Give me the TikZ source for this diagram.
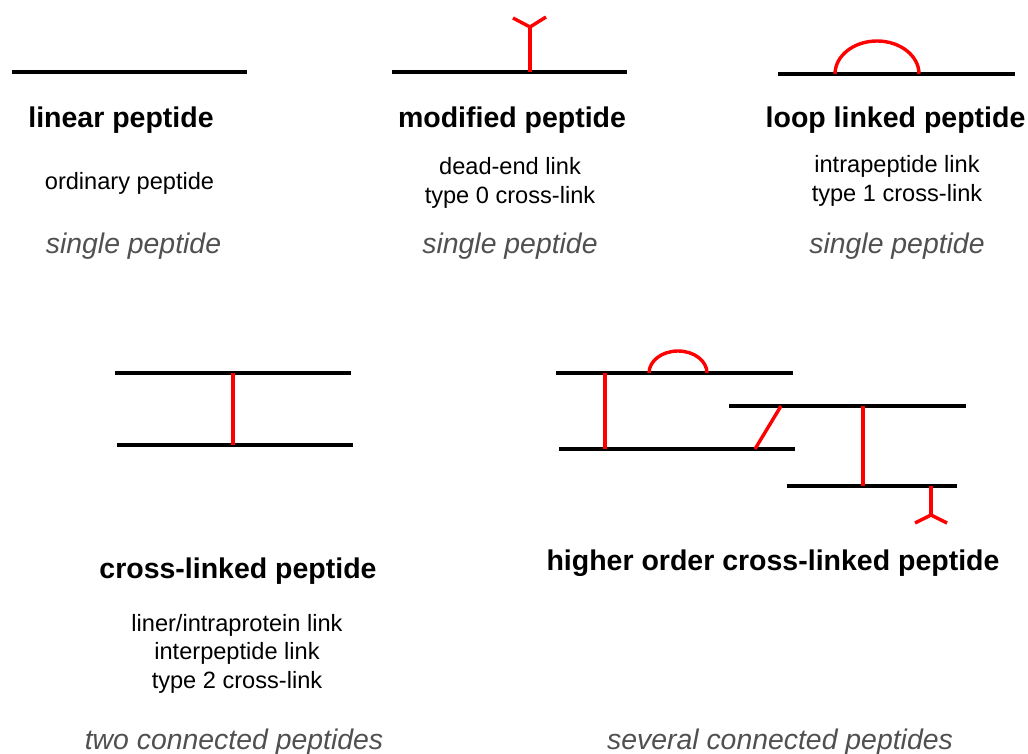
\documentclass[tikz,border=0pt]{standalone}
\usepackage{fontspec}
\setmainfont{Liberation Sans}
\definecolor{notegray}{RGB}{80,80,80}
\definecolor{linkred}{RGB}{255,0,0}
\begin{document}
\begin{tikzpicture}[x=1pt,y=-1pt,
  chain/.style={line width=3.8pt,black},
  xlink/.style={line width=3.4pt,linkred},
  title/.style={anchor=base,inner sep=0pt,font=\bfseries\fontsize{28.5}{34}\selectfont},
  desc/.style={anchor=base,inner sep=0pt,font=\fontsize{23.6}{29}\selectfont},
  kind/.style={anchor=base,inner sep=0pt,text=notegray,font=\itshape\fontsize{28.4}{34}\selectfont}]
\useasboundingbox (0,0) rectangle (1028,754);

% --- linear peptide
\coordinate (la) at (12,72); \coordinate (lb) at (247,72);
\draw[chain] (la) -- (lb);
\node[title] (lt) at (121,128) {linear peptide};
\node[desc] (ld) at (129.5,190) {ordinary peptide};
\node[kind] (lk) at (133.5,253) {single peptide};

% --- modified peptide (dead-end)
\coordinate (ma) at (392,72); \coordinate (mb) at (627,72);
\draw[chain] (ma) -- (mb);
\coordinate (ms) at (530,72); \coordinate (mt) at (530,27);
\coordinate (ml) at (513,18); \coordinate (mr) at (546,17);
\draw[xlink] (ms) -- (mt);
\draw[xlink,line join=miter] (ml) -- (mt) -- (mr);
\node[title] (mtl) at (512,128) {modified peptide};
\node[desc] (md1) at (510,175) {dead-end link};
\node[desc] (md2) at (510,204) {type 0 cross-link};
\node[kind] (mk) at (510,253) {single peptide};

% --- loop linked peptide
\coordinate (pa) at (778,74); \coordinate (pb) at (1015,74);
\draw[chain] (pa) -- (pb);
\coordinate (p1) at (835,74);
\draw[xlink] (p1) arc[start angle=180,end angle=0,x radius=42pt,y radius=33pt];
\node[title] (pt) at (895.5,128) {loop linked peptide};
\node[desc] (pd1) at (897,173) {intrapeptide link};
\node[desc] (pd2) at (897,202) {type 1 cross-link};
\node[kind] (pk) at (897,253) {single peptide};

% --- cross-linked peptide
\coordinate (ca) at (115,373); \coordinate (cb) at (351,373);
\coordinate (cc) at (117,445); \coordinate (cd) at (353,445);
\draw[chain] (ca) -- (cb);
\draw[chain] (cc) -- (cd);
\coordinate (cu) at (233,373); \coordinate (cl) at (233,445);
\draw[xlink] (cu) -- (cl);
\node[title] (ct) at (238,578) {cross-linked peptide};
\node[desc] (cd1) at (237,631) {liner/intraprotein link};
\node[desc] (cd2) at (237,659) {interpeptide link};
\node[desc] (cd3) at (237,688) {type 2 cross-link};
\node[kind] (ck) at (234,749) {two connected peptides};

% --- higher order cross-linked peptide
\coordinate (h1a) at (556,373); \coordinate (h1b) at (793,373);
\coordinate (h2a) at (559,449); \coordinate (h2b) at (795,449);
\coordinate (h3a) at (729,406); \coordinate (h3b) at (966,406);
\coordinate (h4a) at (787,486); \coordinate (h4b) at (957,486);
\draw[chain] (h1a) -- (h1b);
\draw[chain] (h2a) -- (h2b);
\draw[chain] (h3a) -- (h3b);
\draw[chain] (h4a) -- (h4b);
\coordinate (hq) at (649,373);
\draw[xlink] (hq) arc[start angle=180,end angle=0,x radius=29pt,y radius=22pt];
\coordinate (hv1) at (605,373); \coordinate (hv2) at (605,449);
\draw[xlink] (hv1) -- (hv2);
\coordinate (hd1) at (781,406); \coordinate (hd2) at (755,449);
\draw[xlink] (hd1) -- (hd2);
\coordinate (hw1) at (863,406); \coordinate (hw2) at (863,486);
\draw[xlink] (hw1) -- (hw2);
\coordinate (hs) at (931,486); \coordinate (ht) at (931,515);
\coordinate (hl) at (915,523); \coordinate (hr) at (947,523);
\draw[xlink] (hs) -- (ht);
\draw[xlink,line join=miter] (hl) -- (ht) -- (hr);
\node[title] (ht1) at (773,570) {higher order cross-linked peptide};
\node[kind] (hk) at (780,749) {several connected peptides};
\end{tikzpicture}
\end{document}
